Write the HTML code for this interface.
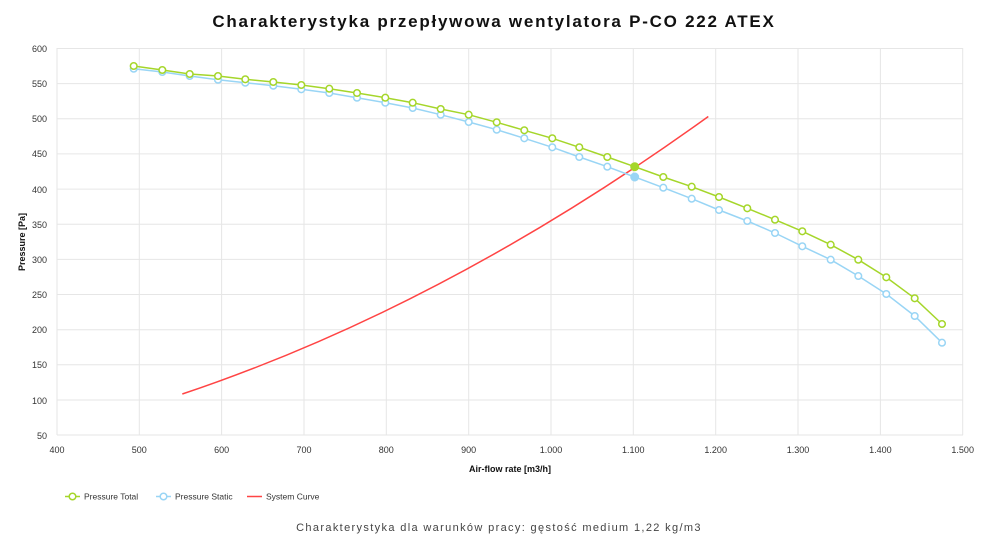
<!DOCTYPE html>
<html><head><meta charset="utf-8"><style>
html,body{margin:0;padding:0;background:#fff;}
svg{display:block;font-family:"Liberation Sans","DejaVu Sans",sans-serif;}
</style></head><body>
<svg width="1000" height="541" viewBox="0 0 1000 541" xmlns="http://www.w3.org/2000/svg">
<rect width="1000" height="541" fill="#fff"/>
<text x="494" y="27" text-anchor="middle" font-size="17" font-weight="bold" letter-spacing="1.75" fill="#111">Charakterystyka przepływowa wentylatora P-CO 222 ATEX</text>
<g stroke="#e6e6e6" stroke-width="1">
<line x1="57" y1="48.5" x2="963" y2="48.5"/><line x1="57" y1="83.6" x2="963" y2="83.6"/>
<line x1="57" y1="118.8" x2="963" y2="118.8"/><line x1="57" y1="153.9" x2="963" y2="153.9"/>
<line x1="57" y1="189.1" x2="963" y2="189.1"/><line x1="57" y1="224.2" x2="963" y2="224.2"/>
<line x1="57" y1="259.4" x2="963" y2="259.4"/><line x1="57" y1="294.5" x2="963" y2="294.5"/>
<line x1="57" y1="329.7" x2="963" y2="329.7"/><line x1="57" y1="364.8" x2="963" y2="364.8"/>
<line x1="57" y1="400" x2="963" y2="400"/><line x1="57" y1="435" x2="963" y2="435"/>
<line x1="57" y1="48" x2="57" y2="435"/><line x1="139.3" y1="48" x2="139.3" y2="435"/>
<line x1="221.6" y1="48" x2="221.6" y2="435"/><line x1="304" y1="48" x2="304" y2="435"/>
<line x1="386.3" y1="48" x2="386.3" y2="435"/><line x1="468.7" y1="48" x2="468.7" y2="435"/>
<line x1="551" y1="48" x2="551" y2="435"/><line x1="633.3" y1="48" x2="633.3" y2="435"/>
<line x1="715.7" y1="48" x2="715.7" y2="435"/><line x1="798" y1="48" x2="798" y2="435"/>
<line x1="880.4" y1="48" x2="880.4" y2="435"/><line x1="962.7" y1="48" x2="962.7" y2="435"/>
</g>
<g font-size="9" fill="#333" text-anchor="end">
<text x="47" y="52">600</text><text x="47" y="87">550</text><text x="47" y="122">500</text>
<text x="47" y="157">450</text><text x="47" y="193">400</text><text x="47" y="228">350</text>
<text x="47" y="263">300</text><text x="47" y="298">250</text><text x="47" y="333">200</text>
<text x="47" y="368">150</text><text x="47" y="404">100</text><text x="47" y="439">50</text>
</g>
<g font-size="9" fill="#333" text-anchor="middle">
<text x="57" y="453">400</text><text x="139.3" y="453">500</text><text x="221.6" y="453">600</text>
<text x="304" y="453">700</text><text x="386.3" y="453">800</text><text x="468.7" y="453">900</text>
<text x="551" y="453">1.000</text><text x="633.3" y="453">1.100</text><text x="715.7" y="453">1.200</text>
<text x="798" y="453">1.300</text><text x="880.4" y="453">1.400</text><text x="962.7" y="453">1.500</text>
</g>
<text x="510" y="472" text-anchor="middle" font-size="9" font-weight="bold" fill="#111">Air-flow rate [m3/h]</text>
<text transform="translate(25,242) rotate(-90)" text-anchor="middle" font-size="9" font-weight="bold" fill="#111">Pressure [Pa]</text>
<path d="M182.3,394 Q445.3,306 708.3,116.5" fill="none" stroke="#ff4444" stroke-width="1.5"/>
<polyline fill="none" stroke="#99d5f5" stroke-width="1.5" points="133.7,68.7 162.3,72 189.7,76 218,79.7 245.3,82.7 273.3,85.7 301.3,89.3 329.3,93 357,97.7 385.3,102.7 412.7,108 440.7,114.7 468.7,122 496.7,129.7 524.3,138.3 552.3,147.3 579.3,157 607.3,166.7 634.7,177 663.3,187.7 691.7,198.7 719,210 747.3,221 775,233 802.3,246.3 830.7,259.7 858.3,276 886.3,294 914.7,316 942,342.7"/>
<g fill="#fff" stroke="#99d5f5" stroke-width="1.5">
<circle cx="133.7" cy="68.7" r="3.3"/><circle cx="162.3" cy="72" r="3.3"/><circle cx="189.7" cy="76" r="3.3"/><circle cx="218" cy="79.7" r="3.3"/><circle cx="245.3" cy="82.7" r="3.3"/><circle cx="273.3" cy="85.7" r="3.3"/><circle cx="301.3" cy="89.3" r="3.3"/><circle cx="329.3" cy="93" r="3.3"/><circle cx="357" cy="97.7" r="3.3"/><circle cx="385.3" cy="102.7" r="3.3"/><circle cx="412.7" cy="108" r="3.3"/><circle cx="440.7" cy="114.7" r="3.3"/><circle cx="468.7" cy="122" r="3.3"/><circle cx="496.7" cy="129.7" r="3.3"/><circle cx="524.3" cy="138.3" r="3.3"/><circle cx="552.3" cy="147.3" r="3.3"/><circle cx="579.3" cy="157" r="3.3"/><circle cx="607.3" cy="166.7" r="3.3"/><circle cx="663.3" cy="187.7" r="3.3"/><circle cx="691.7" cy="198.7" r="3.3"/><circle cx="719" cy="210" r="3.3"/><circle cx="747.3" cy="221" r="3.3"/><circle cx="775" cy="233" r="3.3"/><circle cx="802.3" cy="246.3" r="3.3"/><circle cx="830.7" cy="259.7" r="3.3"/><circle cx="858.3" cy="276" r="3.3"/><circle cx="886.3" cy="294" r="3.3"/><circle cx="914.7" cy="316" r="3.3"/><circle cx="942" cy="342.7" r="3.3"/>
</g>
<circle cx="634.7" cy="177" r="4.5" fill="#99d5f5"/>
<polyline fill="none" stroke="#a5d62a" stroke-width="1.5" points="133.7,66 162.3,70 189.7,74 218,76 245.3,79.3 273.3,82 301.3,85 329.3,88.7 357,93 385.3,97.7 412.7,102.7 440.7,109 468.7,114.7 496.7,122.3 524.3,130.3 552.3,138.3 579.3,147.3 607.3,157 634.7,166.7 663.3,177 691.7,186.7 719,197 747.3,208.3 775,219.7 802.3,231.3 830.7,244.7 858.3,259.7 886.3,277.3 914.7,298.3 942,324"/>
<g fill="#fff" stroke="#a5d62a" stroke-width="1.5">
<circle cx="133.7" cy="66" r="3.3"/><circle cx="162.3" cy="70" r="3.3"/><circle cx="189.7" cy="74" r="3.3"/><circle cx="218" cy="76" r="3.3"/><circle cx="245.3" cy="79.3" r="3.3"/><circle cx="273.3" cy="82" r="3.3"/><circle cx="301.3" cy="85" r="3.3"/><circle cx="329.3" cy="88.7" r="3.3"/><circle cx="357" cy="93" r="3.3"/><circle cx="385.3" cy="97.7" r="3.3"/><circle cx="412.7" cy="102.7" r="3.3"/><circle cx="440.7" cy="109" r="3.3"/><circle cx="468.7" cy="114.7" r="3.3"/><circle cx="496.7" cy="122.3" r="3.3"/><circle cx="524.3" cy="130.3" r="3.3"/><circle cx="552.3" cy="138.3" r="3.3"/><circle cx="579.3" cy="147.3" r="3.3"/><circle cx="607.3" cy="157" r="3.3"/><circle cx="663.3" cy="177" r="3.3"/><circle cx="691.7" cy="186.7" r="3.3"/><circle cx="719" cy="197" r="3.3"/><circle cx="747.3" cy="208.3" r="3.3"/><circle cx="775" cy="219.7" r="3.3"/><circle cx="802.3" cy="231.3" r="3.3"/><circle cx="830.7" cy="244.7" r="3.3"/><circle cx="858.3" cy="259.7" r="3.3"/><circle cx="886.3" cy="277.3" r="3.3"/><circle cx="914.7" cy="298.3" r="3.3"/><circle cx="942" cy="324" r="3.3"/>
</g>
<circle cx="634.7" cy="166.7" r="4.5" fill="#a5d62a"/>
<g font-size="8.5" fill="#333">
<line x1="65" y1="496.5" x2="80" y2="496.5" stroke="#a5d62a" stroke-width="1.5"/>
<circle cx="72.5" cy="496.5" r="3.3" fill="#fff" stroke="#a5d62a" stroke-width="1.5"/>
<text x="84" y="499.5">Pressure Total</text>
<line x1="156" y1="496.5" x2="171" y2="496.5" stroke="#99d5f5" stroke-width="1.5"/>
<circle cx="163.5" cy="496.5" r="3.3" fill="#fff" stroke="#99d5f5" stroke-width="1.5"/>
<text x="175" y="499.5">Pressure Static</text>
<line x1="247" y1="496.5" x2="262" y2="496.5" stroke="#ff4444" stroke-width="1.5"/>
<text x="266" y="499.5">System Curve</text>
</g>
<text x="499" y="531" text-anchor="middle" font-size="11" letter-spacing="1.35" fill="#444">Charakterystyka dla warunków pracy: gęstość medium 1,22 kg/m3</text>
</svg>
</body></html>
